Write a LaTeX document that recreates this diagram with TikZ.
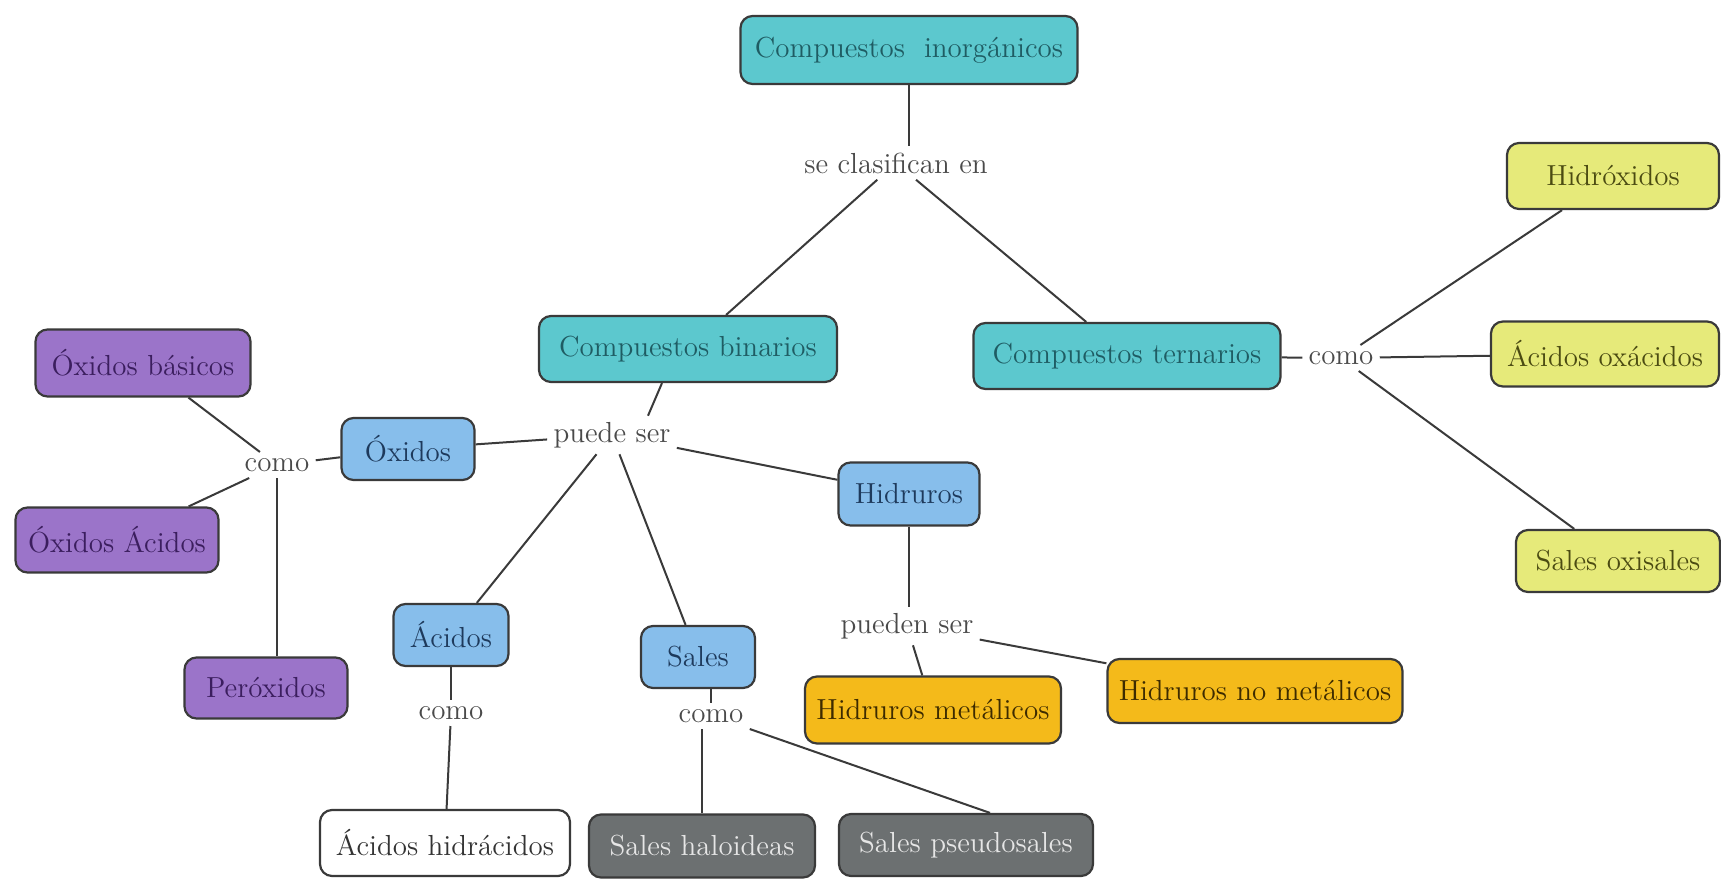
\documentclass[tikz,border=0pt]{standalone}
\usetikzlibrary{calc}
\definecolor{cteal}{HTML}{5CC8CE}
\definecolor{cblue}{HTML}{87BEEB}
\definecolor{cpurp}{HTML}{9B74C9}
\definecolor{cyell}{HTML}{E6EA7A}
\definecolor{corng}{HTML}{F4BA1A}
\definecolor{cgray}{HTML}{6C7071}
\definecolor{bordc}{HTML}{3A3A3A}
\definecolor{linec}{HTML}{3A3A3A}
\definecolor{tteal}{HTML}{1F5C63}
\definecolor{tblue}{HTML}{1E3A5C}
\definecolor{tpurp}{HTML}{3B1E5E}
\definecolor{tyell}{HTML}{4B4B12}
\definecolor{torng}{HTML}{3D2B00}
\definecolor{tgray}{HTML}{E6E6E6}
\definecolor{tlab}{HTML}{4A4A4A}
\begin{document}
\begin{tikzpicture}[x=0.5pt,y=-0.5pt,
  font=\fontsize{14.5}{17}\selectfont,
  box/.style={draw=bordc, line width=1.1pt, rounded corners=6pt, inner sep=0pt, align=center},
  sz/.style 2 args={minimum width=#1*0.5pt, minimum height=#2*0.5pt},
  tealbox/.style={box, fill=cteal, text=tteal},
  bluebox/.style={box, fill=cblue, text=tblue},
  purpbox/.style={box, fill=cpurp, text=tpurp},
  yellbox/.style={box, fill=cyell, text=tyell},
  orngbox/.style={box, fill=corng, text=torng},
  graybox/.style={box, fill=cgray, text=tgray},
  whitebox/.style={box, fill=white, text=black!80},
  lab/.style={text=tlab, inner sep=3pt},
  conn/.style={draw=linec, line width=1pt}]
\fill[white] (0,0) rectangle (1721,879);
\useasboundingbox (0,0) rectangle (1721,879);

% boxes
\node[tealbox, sz={337}{68}] (inorg) at (909,50) {Compuestos\ \ inorgánicos};
\node[tealbox, sz={298}{66}] (binarios) at (688,349) {Compuestos binarios};
\node[tealbox, sz={307}{66}] (ternarios) at (1127,356) {Compuestos ternarios};
\node[yellbox, sz={212}{66}] (hidrox) at (1613,176) {Hidróxidos};
\node[yellbox, sz={228}{65}] (acoxa) at (1605,354) {Ácidos oxácidos};
\node[yellbox, sz={204}{62}] (oxisales) at (1618,561) {Sales oxisales};
\node[bluebox, sz={133}{62}] (oxidos) at (408,449) {Óxidos};
\node[purpbox, sz={215}{67}] (basicos) at (143,363) {Óxidos básicos};
\node[purpbox, sz={203}{65}] (oacidos) at (117,540) {Óxidos Ácidos};
\node[purpbox, sz={163}{61}] (peroxidos) at (266,688) {Peróxidos};
\node[bluebox, sz={115}{62}] (acidos) at (451,635) {Ácidos};
\node[whitebox, sz={250}{66}] (hidracidos) at (445,843) {Ácidos hidrácidos};
\node[bluebox, sz={114}{62}] (sales) at (698,657) {Sales};
\node[graybox, sz={226}{63}] (haloideas) at (702,846) {Sales haloideas};
\node[graybox, sz={254}{62}] (pseudo) at (966,845) {Sales pseudosales};
\node[bluebox, sz={141}{63}] (hidruros) at (909,494) {Hidruros};
\node[orngbox, sz={256}{67}] (metalicos) at (933,710) {Hidruros metálicos};
\node[orngbox, sz={295}{64}] (nometalicos) at (1255,691) {Hidruros no metálicos};

% linking phrases
\node[lab] (seclas) at (896,163) {se clasifican en};
\node[lab] (puede) at (612,435) {puede ser};
\node[lab] (como1) at (1341,358) {como};
\node[lab] (como2) at (277,465) {como};
\node[lab] (como3) at (451,713) {como};
\node[lab] (como4) at (711,716) {como};
\node[lab] (pueden) at (907,626) {pueden ser};

% connectors
\draw[conn] (inorg.south) -- (inorg.south |- seclas.north);
\draw[conn] (seclas) -- (binarios);
\draw[conn] (seclas) -- (ternarios);
\draw[conn] (ternarios) -- (como1);
\draw[conn] (como1) -- (hidrox);
\draw[conn] (como1) -- (acoxa);
\draw[conn] (como1) -- (oxisales);
\draw[conn] ($(binarios.south)+(-26,0)$) -- ($(puede.north)+(36,0)$);
\draw[conn] (puede) -- (oxidos);
\draw[conn] (puede) -- (hidruros);
\draw[conn] (puede) -- (acidos);
\draw[conn] (puede) -- (sales);
\draw[conn] (oxidos) -- (como2);
\draw[conn] (como2) -- (basicos);
\draw[conn] (como2) -- (oacidos);
\draw[conn] (como2.south) -- (como2.south |- peroxidos.north);
\draw[conn] (acidos) -- (como3);
\draw[conn] (como3) -- (hidracidos);
\draw[conn] (sales.south -| como4) -- (como4.north);
\draw[conn] (como4.south -| haloideas.north) -- (haloideas.north);
\draw[conn] (como4.south east) -- ($(pseudo.north)+(24,0)$);
\draw[conn] (hidruros.south) -- (hidruros.south |- pueden.north);
\draw[conn] (pueden) -- (metalicos);
\draw[conn] (pueden) -- (nometalicos);
\end{tikzpicture}
\end{document}
